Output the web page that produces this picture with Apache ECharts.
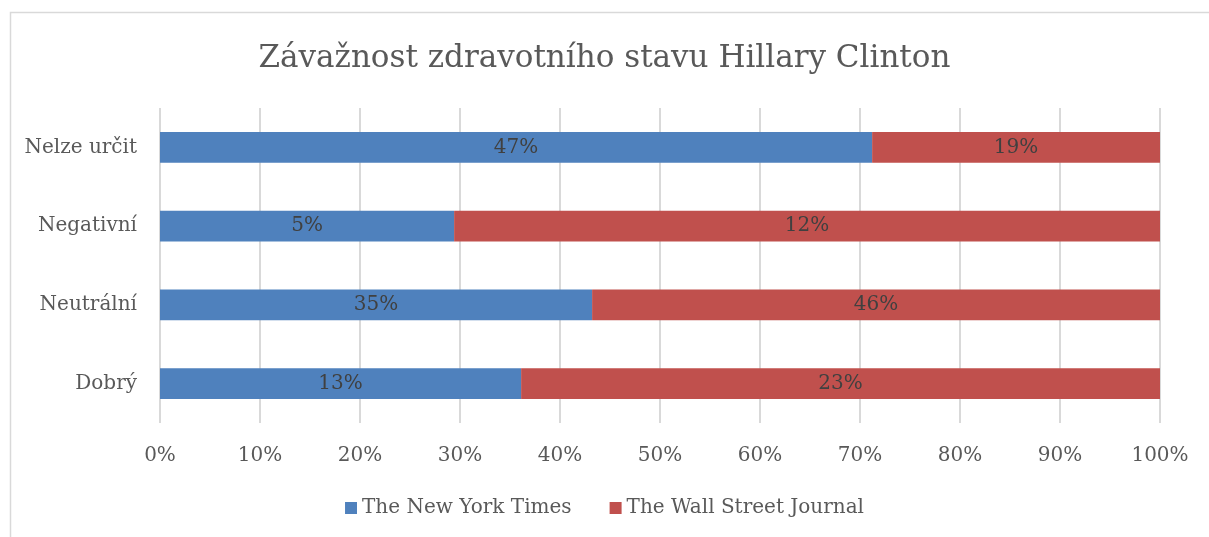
<!DOCTYPE html>
<html>
<head>
<meta charset="utf-8">
<script src="https://cdn.jsdelivr.net/npm/echarts@6/dist/echarts.min.js"></script>
<style>
  html, body { margin: 0; padding: 0; background: #fff; }
  #chart { width: 1209px; height: 537px; }
</style>
</head>
<body>
<div id="chart"></div>
<script>
// Categories listed bottom-to-top (category axis on y grows upward)
const categories = ['Dobrý', 'Neutrální', 'Negativní', 'Nelze určit'];
const nytValues = [13, 35, 5, 47];
const wsjValues = [23, 46, 12, 19];
const seriesNames = ['The New York Times', 'The Wall Street Journal'];
const tickLabels = ['0%', '10%', '20%', '30%', '40%', '50%', '60%', '70%', '80%', '90%', '100%'];

const FONT = '"DejaVu Serif", "Liberation Serif", serif';

// 100% stacked: each bar is its share of the row total, label shows the raw value
const totals = categories.map((_, i) => nytValues[i] + wsjValues[i]);
const toShare = arr => arr.map((v, i) => ({ value: v / totals[i] * 100, raw: v }));

const chart = echarts.init(document.getElementById('chart'));

const labelCfg = {
  show: true,
  position: 'inside',
  color: '#404040',
  fontFamily: FONT,
  fontSize: 20,
  formatter: p => p.data.raw + '%'
};

chart.setOption({
  backgroundColor: '#fff',
  animation: false,
  graphic: [{
    type: 'rect',
    shape: { x: 10.5, y: 12.5, width: 1400, height: 700 },
    style: { fill: 'none', stroke: '#d9d9d9', lineWidth: 1.5 },
    silent: true,
    z: -1
  }],
  title: {
    text: 'Závažnost zdravotního stavu Hillary Clinton',
    left: 'center',
    top: 38,
    textStyle: { fontFamily: FONT, fontSize: 31, fontWeight: 'normal', color: '#595959' }
  },
  legend: {
    bottom: 14,
    left: 'center',
    itemWidth: 12,
    itemHeight: 12,
    itemGap: 38,
    icon: 'rect',
    textStyle: { fontFamily: FONT, fontSize: 20, color: '#595959' },
    data: seriesNames
  },
  grid: { left: 160, right: 49, top: 108, bottom: 114, containLabel: false },
  xAxis: {
    type: 'value',
    min: 0,
    max: 100,
    interval: 10,
    axisLine: { show: false },
    axisTick: { show: false },
    splitLine: { show: true, lineStyle: { color: '#d9d9d9', width: 2 } },
    axisLabel: {
      margin: 23,
      fontFamily: FONT,
      fontSize: 20,
      color: '#595959',
      formatter: v => tickLabels[Math.round(v / 10)]
    }
  },
  yAxis: {
    type: 'category',
    data: categories,
    axisLine: { show: false },
    axisTick: { show: false },
    axisLabel: { margin: 23, fontFamily: FONT, fontSize: 20, color: '#595959' }
  },
  series: [
    {
      name: seriesNames[0],
      type: 'bar',
      stack: 'total',
      barCategoryGap: '61%',
      itemStyle: { color: '#4F81BD' },
      label: labelCfg,
      data: toShare(nytValues)
    },
    {
      name: seriesNames[1],
      type: 'bar',
      stack: 'total',
      barCategoryGap: '61%',
      itemStyle: { color: '#C0504D' },
      label: labelCfg,
      data: toShare(wsjValues)
    }
  ]
});
</script>
</body>
</html>
